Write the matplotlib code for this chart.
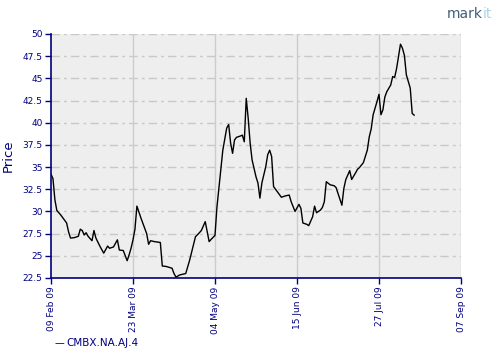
import matplotlib
matplotlib.use("Agg")
import matplotlib.pyplot as plt
import matplotlib.dates as mdates
import pandas as pd
import numpy as np

start_date = "2009-02-09"
day_offsets = [0, 1, 2, 3, 5, 7, 8, 9, 10, 12, 14, 15, 16, 17, 18, 19, 21, 22, 23, 25,
               27, 29, 30, 32, 34, 35, 37, 39, 40, 41, 42, 43, 44, 46, 49, 50, 51, 53, 56, 57,
               59, 62, 63, 64, 66, 69, 71, 74, 76, 77, 79, 81, 82, 84, 85, 87, 88, 90, 91, 92,
               93, 94, 95, 97, 98, 99, 100, 101, 102, 103, 105, 106, 107, 108, 110, 111, 112, 113, 114, 116,
               118, 120, 122, 123, 125, 127, 128, 129, 131, 132, 134, 135, 136, 138, 139, 140, 141, 143, 145, 146,
               148, 149, 150, 151, 153, 154, 156, 157, 158, 160, 162, 163, 164, 165, 167, 168, 169, 170, 171, 172,
               174, 175, 176, 177, 178, 179, 180, 181, 182, 184, 185, 186]
prices = [34.2, 33.7, 31.3, 30.1, 29.6, 29.0, 28.7, 27.7, 27.0, 27.05, 27.2, 28.0, 27.85, 27.35, 27.6, 27.2, 26.7, 27.85, 27.0, 26.1,
          25.3, 26.1, 25.85, 26.0, 26.8, 25.65, 25.6, 24.45, 25.1, 25.85, 26.8, 28.0, 30.6, 29.3, 27.5, 26.3, 26.7, 26.6, 26.5, 23.85,
          23.8, 23.6, 23.0, 22.6, 22.85, 23.0, 24.5, 27.15, 27.6, 27.85, 28.85, 26.6, 26.85, 27.3, 30.5, 34.7, 36.9, 39.4, 39.8, 37.7,
          36.55, 38.05, 38.35, 38.5, 38.6, 37.85, 42.75, 40.5, 37.7, 35.8, 33.9, 33.2, 31.5, 33.2, 35.05, 36.4, 36.9, 36.2, 32.8, 32.2,
          31.6, 31.75, 31.85, 31.1, 30.0, 30.8, 30.35, 28.7, 28.55, 28.4, 29.4, 30.6, 29.85, 30.15, 30.45, 31.1, 33.35, 33.0, 32.9, 32.7,
          31.35, 30.7, 32.6, 33.6, 34.6, 33.6, 34.35, 34.75, 34.95, 35.5, 36.9, 38.4, 39.3, 40.9, 42.4, 43.2, 40.9, 41.45, 42.9, 43.5,
          44.25, 45.2, 45.1, 46.1, 47.45, 48.85, 48.4, 47.6, 45.4, 43.9, 41.05, 40.85]
series_name = "CMBX.NA.AJ.4"
y_ticks = [22.5, 25, 27.5, 30, 32.5, 35, 37.5, 40, 42.5, 45, 47.5, 50]
y_tick_labels = ["22.5", "25", "27.5", "30", "32.5", "35", "37.5", "40", "42.5", "45", "47.5", "50"]
x_tick_dates = ["2009-02-09", "2009-03-23", "2009-05-04", "2009-06-15", "2009-07-27", "2009-09-07"]
x_tick_labels = ["09 Feb 09", "23 Mar 09", "04 May 09", "15 Jun 09", "27 Jul 09", "07 Sep 09"]

dates = pd.Timestamp(start_date) + pd.to_timedelta(day_offsets, unit="D")

navy = "#000080"
fig = plt.figure(figsize=(5, 3.6), dpi=100)
ax = fig.add_axes([0.102, 0.2278, 0.82, 0.6778])
ax.set_facecolor("#eeeeee")

ax.plot(dates, prices, color="black", lw=1.0)

ax.set_ylim(22.5, 50)
ax.set_yticks(y_ticks)
ax.set_yticklabels(y_tick_labels)
xt = pd.to_datetime(x_tick_dates)
ax.set_xlim(xt[0], xt[-1])
ax.set_xticks(xt)
ax.set_xticklabels(x_tick_labels, rotation=90)

for v in y_ticks[1:]:
    ax.axhline(v, color="#c8c8c8", lw=1.0, linestyle=(0, (6, 3, 2, 3)), zorder=1)
for d in xt[1:]:
    ax.axvline(d, color="#cccccc", lw=1.0, zorder=1)

for s in ["top", "right"]:
    ax.spines[s].set_visible(False)
for s in ["left", "bottom"]:
    ax.spines[s].set_color(navy)
    ax.spines[s].set_linewidth(1.2)

ax.tick_params(axis="both", colors=navy, labelcolor=navy, labelsize=6.5, length=4, width=1.0, direction="out", pad=2)
ax.set_ylabel("Price", color=navy, fontsize=9.5)
ax.yaxis.set_label_coords(-0.088, 0.5)

fig.text(0.11, 0.048, "\u2014", color=navy, fontsize=7, va="center", ha="left")
fig.text(0.132, 0.048, series_name, color=navy, fontsize=7.5, va="center", ha="left")

t1 = fig.text(0.894, 0.96, "mark", color="#3f5f7a", fontsize=10, va="center", ha="left")
fig.canvas.draw()
bb = t1.get_window_extent(renderer=fig.canvas.get_renderer())
fig.text(bb.x1 / fig.bbox.width, 0.96, "it", color="#a9d6df", fontsize=10, va="center", ha="left")

fig.savefig("out.png", dpi=100)
